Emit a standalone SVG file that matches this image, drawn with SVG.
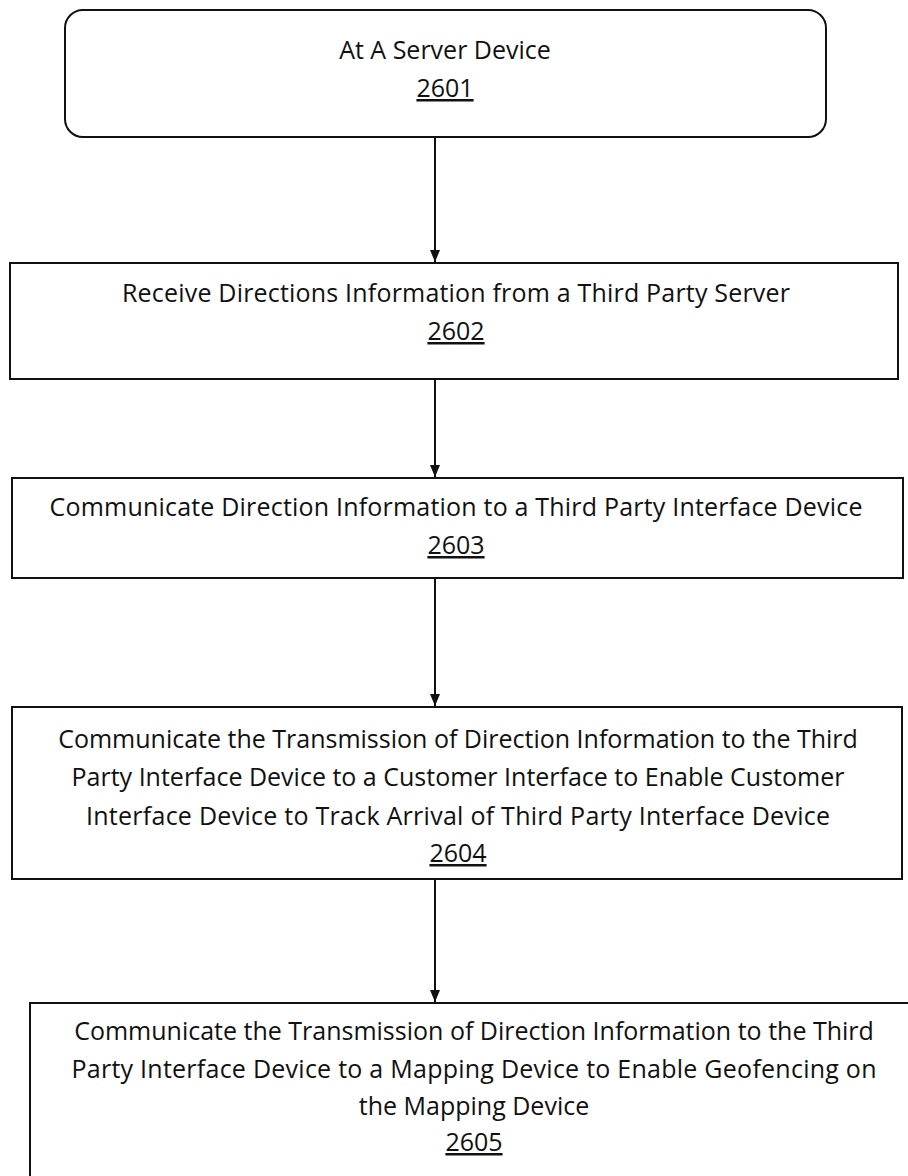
<svg xmlns="http://www.w3.org/2000/svg" width="908" height="1176" viewBox="0 0 908 1176">
<style>
.box{fill:#fff;stroke:#111;stroke-width:2}
.t{font-family:"Open Sans","Liberation Sans",sans-serif;font-size:25px;fill:#111;text-anchor:middle;font-variant-ligatures:none}
.n{text-decoration:underline}
.c{stroke:#111;stroke-width:2;fill:none}
</style>
<defs>
<marker id="ah" viewBox="0 0 12 10" refX="12" refY="5" markerWidth="12" markerHeight="10" markerUnits="userSpaceOnUse" orient="auto">
<path d="M0,0 L12,5 L0,10 Z" fill="#111"/>
</marker>
</defs>
<g id="node2601">
<rect class="box" x="65" y="10" width="761" height="127" rx="18"/>
<text class="t" x="445" y="59">At A Server Device</text>
<text class="t n" x="445" y="97">2601</text>
</g>
<g id="node2602">
<rect class="box" x="10" y="263" width="888" height="116"/>
<text class="t" x="456" y="302" textLength="668">Receive Directions Information from a Third Party Server</text>
<text class="t n" x="456" y="340">2602</text>
</g>
<g id="node2603">
<rect class="box" x="12" y="478" width="891" height="100"/>
<text class="t" x="456" y="516" textLength="813">Communicate Direction Information to a Third Party Interface Device</text>
<text class="t n" x="456" y="554">2603</text>
</g>
<g id="node2604">
<rect class="box" x="12" y="707" width="890" height="172"/>
<text class="t" x="458" y="748">Communicate the Transmission of Direction Information to the Third</text>
<text class="t" x="458" y="786">Party Interface Device to a Customer Interface to Enable Customer</text>
<text class="t" x="458" y="825" textLength="744">Interface Device to Track Arrival of Third Party Interface Device</text>
<text class="t n" x="458" y="862">2604</text>
</g>
<g id="node2605">
<rect class="box" x="30" y="1003" width="900" height="200"/>
<text class="t" x="474" y="1040">Communicate the Transmission of Direction Information to the Third</text>
<text class="t" x="474" y="1078" textLength="805">Party Interface Device to a Mapping Device to Enable Geofencing on</text>
<text class="t" x="474" y="1115">the Mapping Device</text>
<text class="t n" x="474" y="1151">2605</text>
</g>
<g id="connectors">
<line class="c" x1="435" y1="137" x2="435" y2="262" marker-end="url(#ah)"/>
<line class="c" x1="435" y1="379" x2="435" y2="477" marker-end="url(#ah)"/>
<line class="c" x1="435" y1="578" x2="435" y2="706" marker-end="url(#ah)"/>
<line class="c" x1="435" y1="879" x2="435" y2="1002" marker-end="url(#ah)"/>
</g>
</svg>
